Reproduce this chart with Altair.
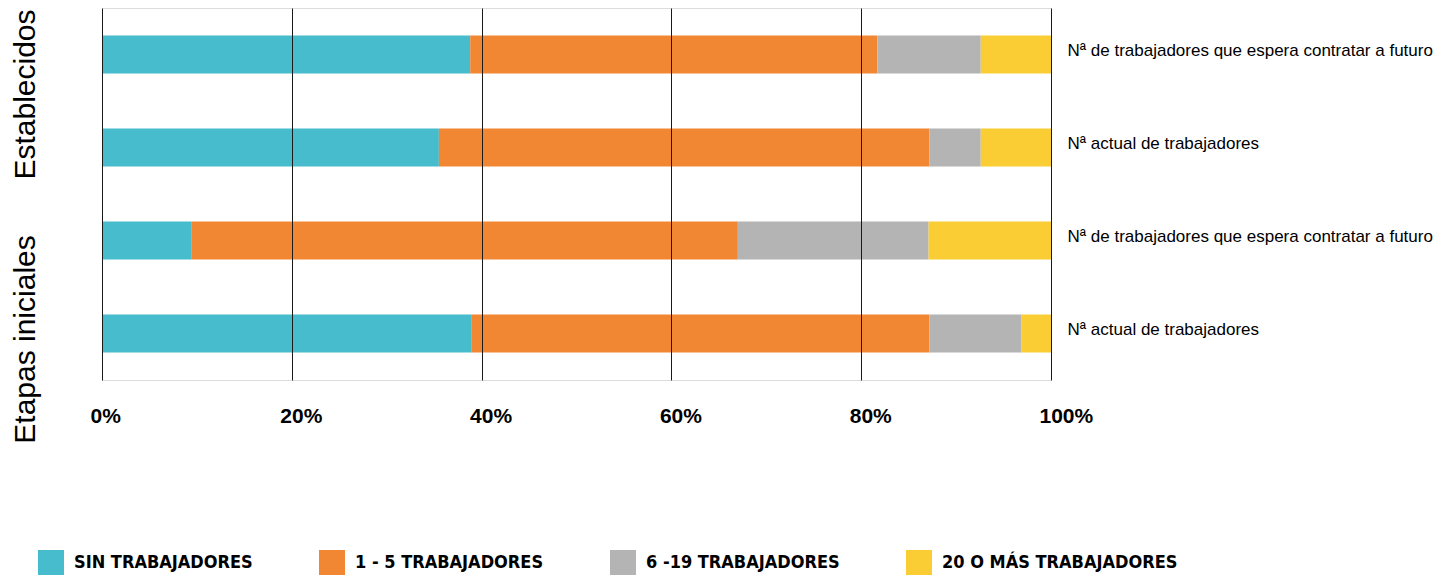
import altair as alt
import pandas as pd

rows = [
    "Establecidos|Nª de trabajadores que espera contratar a futuro",
    "Establecidos|Nª actual de trabajadores",
    "Etapas iniciales|Nª de trabajadores que espera contratar a futuro",
    "Etapas iniciales|Nª actual de trabajadores",
]
categories = ["SIN TRABAJADORES", "1 - 5 TRABAJADORES", "6 -19 TRABAJADORES", "20 O MÁS TRABAJADORES"]
colors = ["#47BCCD", "#F18733", "#B4B4B4", "#F9CD33"]

sin_trab = [38.8, 35.5, 9.4, 38.9]
uno_cinco = [42.9, 51.7, 57.6, 48.3]
seis_19 = [10.9, 5.4, 20.1, 9.7]
veinte_mas = [7.4, 7.4, 12.9, 3.1]

x_ticks = [0, 20, 40, 60, 80, 100]
groups = ["Establecidos", "Etapas iniciales"]

series = [sin_trab, uno_cinco, seis_19, veinte_mas]
recs = []
for ci, (cat, vals) in enumerate(zip(categories, series)):
    for r, v in zip(rows, vals):
        recs.append({"fila": r, "cat": cat, "ord": ci, "valor": v})
df = pd.DataFrame(recs)

y_enc = alt.Y(
    "fila:N",
    sort=rows,
    scale=alt.Scale(paddingInner=0, paddingOuter=0),
    axis=alt.Axis(
        orient="right", title=None, domain=False, ticks=False, tickSize=0,
        labelPadding=16, labelFont="Liberation Sans", labelFontSize=17,
        labelColor="#000000", labelLimit=600, labelOffset=-4,
        labelExpr="split(datum.label, '|')[1]",
    ),
)

bars = alt.Chart(df).mark_bar(size=38).encode(
    x=alt.X(
        "valor:Q", stack="zero",
        scale=alt.Scale(domain=[0, 100], nice=False),
        axis=alt.Axis(
            values=x_ticks, title=None, domain=False, ticks=False, tickSize=0,
            grid=True, gridColor="#1a1a1a", gridWidth=1, gridOpacity=1, zindex=1,
            labelExpr="datum.value + '%'", labelFont="Liberation Sans",
            labelFontWeight="bold", labelFontSize=21, labelColor="#000000",
            labelAlign="left", labelOffset=-12, labelPadding=25, labelFlush=False,
        ),
    ),
    y=y_enc,
    color=alt.Color(
        "cat:N",
        scale=alt.Scale(domain=categories, range=colors),
        legend=alt.Legend(
            title=None, orient="none", direction="horizontal",
            legendX=-64, legendY=542, padding=0,
            symbolType="square", symbolSize=676, symbolStrokeWidth=0, symbolOpacity=1,
            labelFont="DejaVu Sans Condensed", labelFontWeight="bold", labelFontSize=18,
            labelColor="#000000", labelOffset=10, columnPadding=66, labelLimit=400,
            gridAlign="each",
        ),
    ),
    order=alt.Order("ord:Q"),
)

gdf1 = pd.DataFrame({"fila": [rows[0]], "texto": [groups[0]]})
gdf2 = pd.DataFrame({"fila": [rows[3]], "texto": [groups[1]]})

t1 = alt.Chart(gdf1).mark_text(
    angle=270, align="center", baseline="alphabetic", dx=-40,
    font="Liberation Sans", fontSize=30, color="#000000",
).encode(x=alt.value(-67), y=y_enc, text="texto:N")

t2 = alt.Chart(gdf2).mark_text(
    angle=270, align="center", baseline="alphabetic", dx=-6,
    font="Liberation Sans", fontSize=30, color="#000000",
).encode(x=alt.value(-67), y=y_enc, text="texto:N")

chart = alt.layer(bars, t1, t2).properties(
    width=949, height=372,
    autosize=alt.AutoSizeParams(type="none"),
    padding={"left": 94, "top": 0, "right": 390, "bottom": 197},
).configure_view(stroke=None).configure(background="white")

chart.save("out.html", embed_options={"renderer": "svg", "actions": False})
